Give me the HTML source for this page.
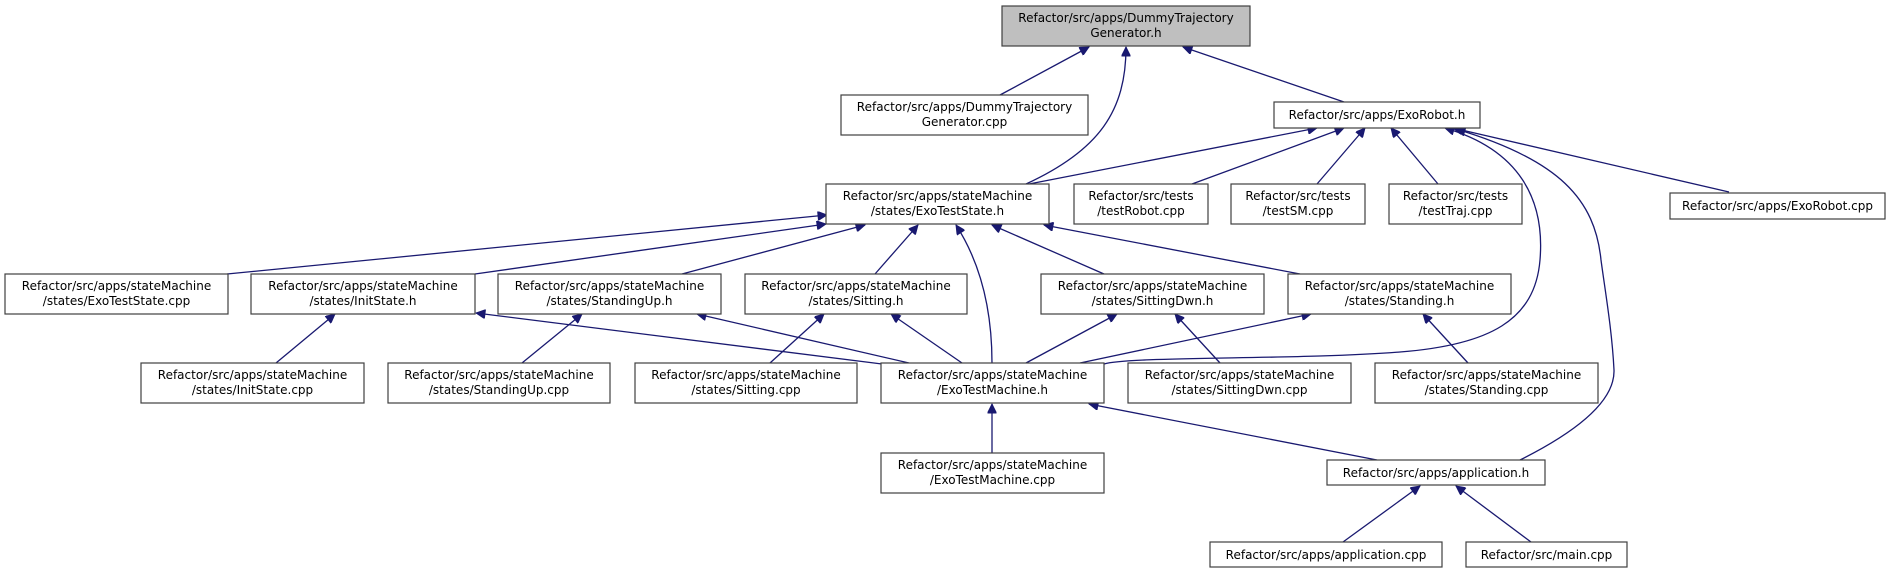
<!DOCTYPE html>
<html><head><meta charset="utf-8"><style>
html,body{margin:0;padding:0;background:#fff;}
svg{display:block;}
text{font-family:"DejaVu Sans","Liberation Sans",sans-serif;font-size:12px;fill:#000;text-anchor:middle;}
rect{fill:#fff;stroke:#404040;stroke-width:1.2;}
path.e{fill:none;stroke:#191970;stroke-width:1.3;}
</style></head><body>
<svg width="1899" height="573" viewBox="0 0 1899 573" xmlns="http://www.w3.org/2000/svg">
<defs>
<marker id="a" viewBox="0 0 10 10" refX="10" refY="5" markerWidth="11" markerHeight="9" markerUnits="userSpaceOnUse" orient="auto">
<path d="M0,0 L10,5 L0,10 z" fill="#191970" stroke="#191970"/>
</marker>
</defs>
<g marker-end="url(#a)">
<path class="e" d="M1000,95 L1089,47"/>
<path class="e" d="M1026,184 C1100,150 1126,110 1126,47"/>
<path class="e" d="M1344,102 L1183,47"/>
<path class="e" d="M1029,184 L1317,128"/>
<path class="e" d="M1192,184 L1344,128"/>
<path class="e" d="M1317,184 L1365,128"/>
<path class="e" d="M1438,184 L1391,128"/>
<path class="e" d="M1729,192 L1453,128"/>
<path class="e" d="M1104,364 C1130,356 1300,360 1400,352 C1490,345 1535,320 1540,260 C1545,200 1520,150 1445,128"/>
<path class="e" d="M1520,460 C1580,430 1615,400 1614,370 C1612,330 1605,290 1601,260 C1595,200 1560,160 1456,129"/>
<path class="e" d="M227,274 L827,215"/>
<path class="e" d="M475,274 L826,224"/>
<path class="e" d="M682,274 L865,225"/>
<path class="e" d="M875,274 L918,225"/>
<path class="e" d="M992,363 C992,320 985,270 956,225"/>
<path class="e" d="M1104,274 L992,225"/>
<path class="e" d="M1300,274 L1044,225"/>
<path class="e" d="M882,364 L476,313"/>
<path class="e" d="M909,363 L697,314"/>
<path class="e" d="M962,363 L891,314"/>
<path class="e" d="M770,363 L824,314"/>
<path class="e" d="M522,363 L582,314"/>
<path class="e" d="M276,363 L335,314"/>
<path class="e" d="M1026,363 L1117,314"/>
<path class="e" d="M1080,363 L1311,314"/>
<path class="e" d="M1220,363 L1175,314"/>
<path class="e" d="M1468,363 L1423,314"/>
<path class="e" d="M992,453 L992,404"/>
<path class="e" d="M1377,460 L1089,404"/>
<path class="e" d="M1343,542 L1420,486"/>
<path class="e" d="M1531,542 L1456,486"/>
</g>

<rect x="1002" y="6" width="248" height="40" style="fill:#bfbfbf"/>
<text x="1126" y="22">Refactor/src/apps/DummyTrajectory</text><text x="1126" y="37">Generator.h</text>

<rect x="841" y="95" width="247" height="40"/>
<text x="964.5" y="111">Refactor/src/apps/DummyTrajectory</text><text x="964.5" y="126">Generator.cpp</text>

<rect x="1274" y="102" width="206" height="26"/>
<text x="1377" y="119">Refactor/src/apps/ExoRobot.h</text>

<rect x="826" y="184" width="223" height="40"/>
<text x="937.5" y="200">Refactor/src/apps/stateMachine</text><text x="937.5" y="215">/states/ExoTestState.h</text>

<rect x="1074" y="184" width="134" height="40"/>
<text x="1141" y="200">Refactor/src/tests</text><text x="1141" y="215">/testRobot.cpp</text>

<rect x="1231" y="184" width="134" height="40"/>
<text x="1298" y="200">Refactor/src/tests</text><text x="1298" y="215">/testSM.cpp</text>

<rect x="1389" y="184" width="133" height="40"/>
<text x="1455.5" y="200">Refactor/src/tests</text><text x="1455.5" y="215">/testTraj.cpp</text>

<rect x="1670" y="193" width="215" height="26"/>
<text x="1777.5" y="210">Refactor/src/apps/ExoRobot.cpp</text>

<rect x="5" y="274" width="223" height="40"/>
<text x="116.5" y="290">Refactor/src/apps/stateMachine</text><text x="116.5" y="305">/states/ExoTestState.cpp</text>

<rect x="251" y="274" width="224" height="40"/>
<text x="363" y="290">Refactor/src/apps/stateMachine</text><text x="363" y="305">/states/InitState.h</text>

<rect x="498" y="274" width="223" height="40"/>
<text x="609.5" y="290">Refactor/src/apps/stateMachine</text><text x="609.5" y="305">/states/StandingUp.h</text>

<rect x="745" y="274" width="222" height="40"/>
<text x="856" y="290">Refactor/src/apps/stateMachine</text><text x="856" y="305">/states/Sitting.h</text>

<rect x="1041" y="274" width="223" height="40"/>
<text x="1152.5" y="290">Refactor/src/apps/stateMachine</text><text x="1152.5" y="305">/states/SittingDwn.h</text>

<rect x="1288" y="274" width="223" height="40"/>
<text x="1399.5" y="290">Refactor/src/apps/stateMachine</text><text x="1399.5" y="305">/states/Standing.h</text>

<rect x="141" y="363" width="223" height="40"/>
<text x="252.5" y="379">Refactor/src/apps/stateMachine</text><text x="252.5" y="394">/states/InitState.cpp</text>

<rect x="388" y="363" width="222" height="40"/>
<text x="499" y="379">Refactor/src/apps/stateMachine</text><text x="499" y="394">/states/StandingUp.cpp</text>

<rect x="635" y="363" width="222" height="40"/>
<text x="746" y="379">Refactor/src/apps/stateMachine</text><text x="746" y="394">/states/Sitting.cpp</text>

<rect x="881" y="363" width="223" height="40"/>
<text x="992.5" y="379">Refactor/src/apps/stateMachine</text><text x="992.5" y="394">/ExoTestMachine.h</text>

<rect x="1128" y="363" width="223" height="40"/>
<text x="1239.5" y="379">Refactor/src/apps/stateMachine</text><text x="1239.5" y="394">/states/SittingDwn.cpp</text>

<rect x="1375" y="363" width="223" height="40"/>
<text x="1486.5" y="379">Refactor/src/apps/stateMachine</text><text x="1486.5" y="394">/states/Standing.cpp</text>

<rect x="881" y="453" width="223" height="40"/>
<text x="992.5" y="469">Refactor/src/apps/stateMachine</text><text x="992.5" y="484">/ExoTestMachine.cpp</text>

<rect x="1327" y="460" width="218" height="25"/>
<text x="1436" y="477">Refactor/src/apps/application.h</text>

<rect x="1210" y="542" width="232" height="25"/>
<text x="1326" y="559">Refactor/src/apps/application.cpp</text>

<rect x="1466" y="542" width="161" height="25"/>
<text x="1546.5" y="559">Refactor/src/main.cpp</text>
</svg>
</body></html>
